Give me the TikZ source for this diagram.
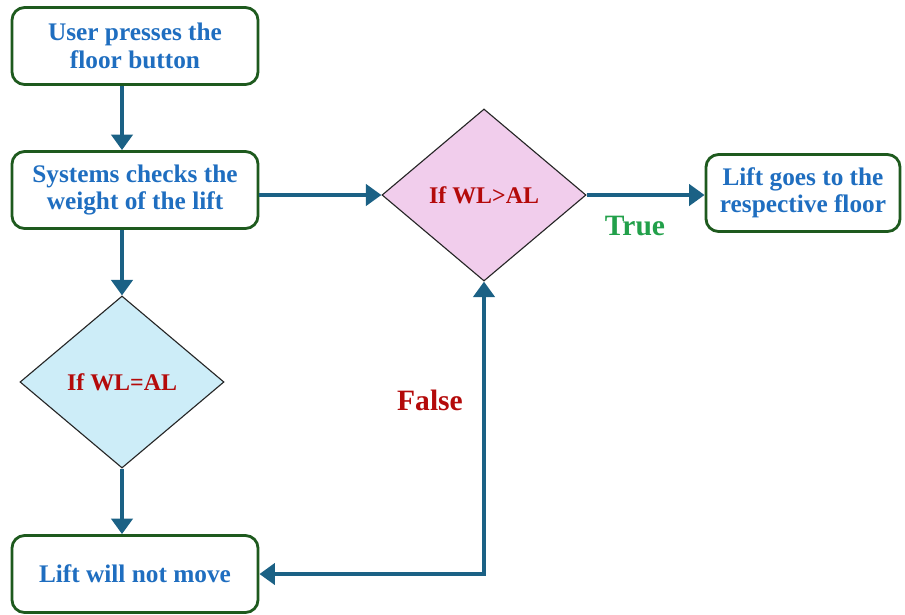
\documentclass[tikz,border=0pt]{standalone}
\usepackage{fontspec}
\setmainfont{Liberation Serif}
\usetikzlibrary{shapes.geometric,arrows.meta}
\definecolor{boxgreen}{HTML}{1E5A1E}
\definecolor{txtblue}{HTML}{1F6EC0}
\definecolor{flowblue}{HTML}{1B6185}
\definecolor{txtred}{HTML}{B40A0A}
\definecolor{truegreen}{HTML}{22A04A}
\definecolor{pinkfill}{HTML}{F1CDEC}
\definecolor{bluefill}{HTML}{CDEDF8}
\tikzset{
  stepbox/.style={rectangle,rounded corners=9pt,draw=boxgreen,line width=2pt,fill=white,
    minimum height=1.925cm,align=center,text=txtblue,
    font=\fontsize{18}{19.5}\selectfont\bfseries},
  decision/.style={diamond,draw=black!85,line width=0.8pt,inner sep=0pt,
    minimum width=5.1cm,minimum height=4.3cm,text=txtred,
    font=\fontsize{17}{19}\selectfont\bfseries},
  flow/.style={draw=flowblue,line width=3.4pt,>={Triangle[length=11pt,width=15pt]},->},
}
\begin{document}
\begin{tikzpicture}[x=0.025cm,y=-0.025cm]
  \useasboundingbox (0,0) rectangle (905,614);
  \begin{scope}
    \node[stepbox,minimum width=6.15cm] (press) at (135,46) {User presses the\\floor button};
    \node[stepbox,minimum width=6.15cm] (check) at (135,190) {Systems checks the\\weight of the lift};
    \node[decision,fill=bluefill] (eq) at (122,382) {If WL=AL};
    \node[stepbox,minimum width=6.15cm] (stay) at (135,574) {Lift will not move};
    \node[decision,fill=pinkfill] (gt) at (484,195) {If WL>AL};
    \node[stepbox,minimum width=4.85cm] (go) at (803,193) {Lift goes to the\\respective floor};
  \end{scope}
  \node[text=truegreen,font=\fontsize{21}{24}\selectfont\bfseries] (true) at (635,226) {True};
  \node[text=txtred,font=\fontsize{21}{24}\selectfont\bfseries] (false) at (430,400) {False};
  \begin{scope}
    \draw[flow] (press.south -| eq.north) -- (check.north -| eq.north);
    \draw[flow] (check.south -| eq.north) -- (eq.north);
    \draw[flow] (eq.south) -- (stay.north -| eq.south);
    \draw[flow] (check.east |- gt.west) -- (gt.west);
    \draw[flow] (gt.east) -- (go.west |- gt.east);
    \draw[flow,<->] (stay.east) -| (gt.south);
  \end{scope}
\end{tikzpicture}
\end{document}
